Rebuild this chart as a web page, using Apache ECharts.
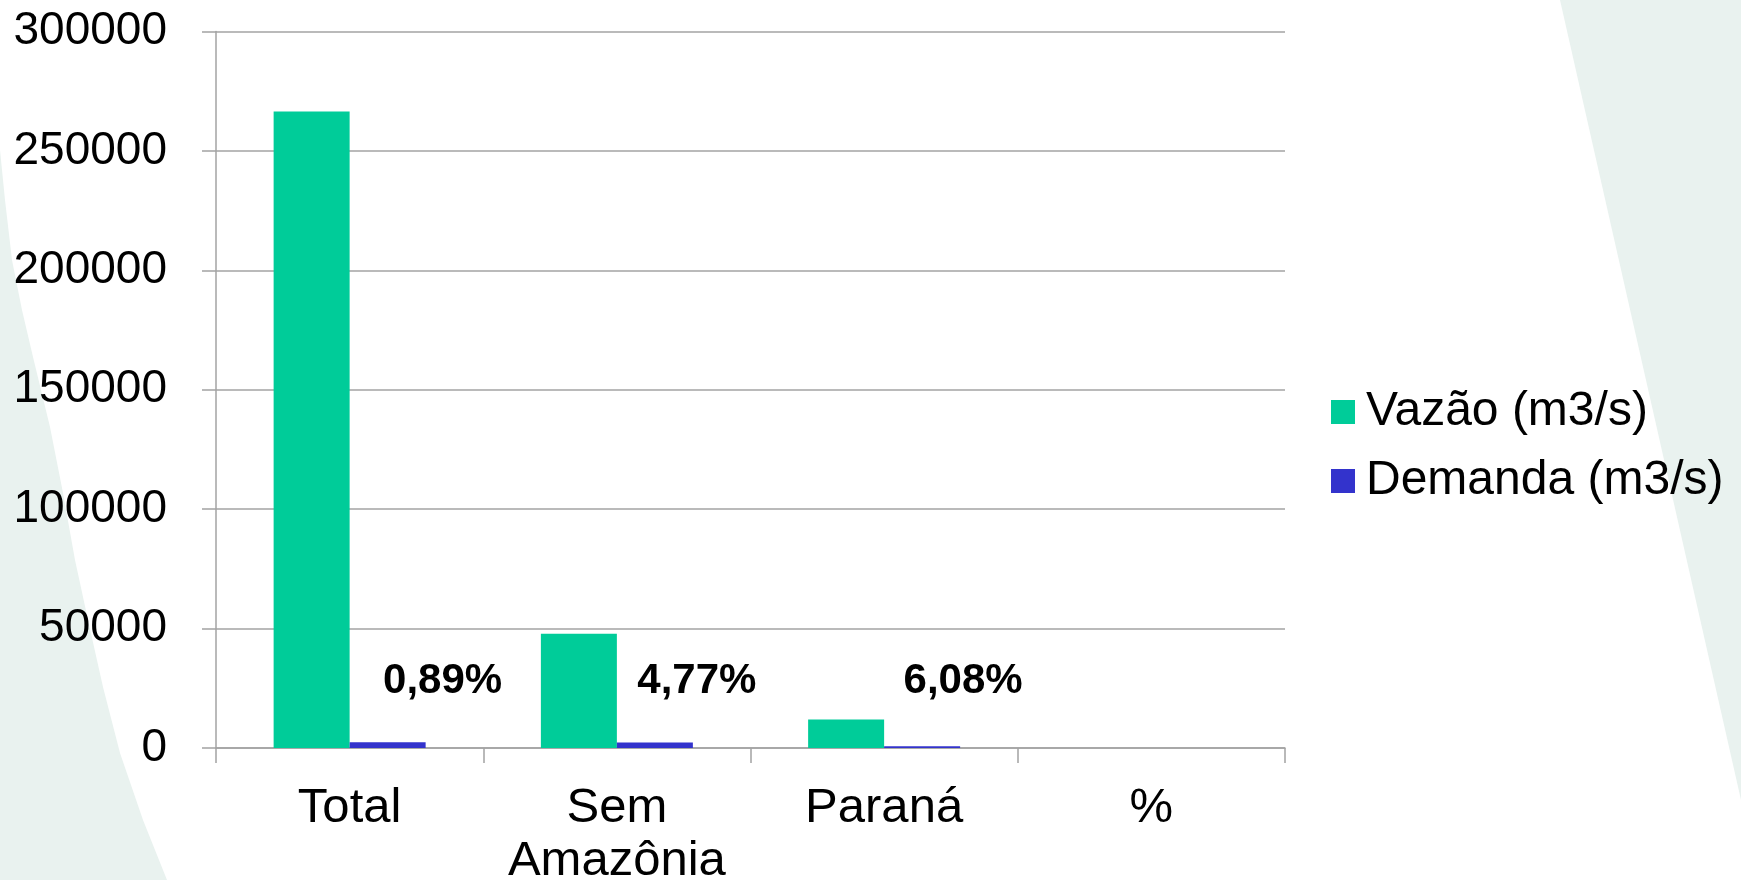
<!DOCTYPE html>
<html>
<head>
<meta charset="utf-8">
<title>Vazão x Demanda</title>
<script src="https://cdn.jsdelivr.net/npm/echarts@6/dist/echarts.min.js"></script>
<style>
  html, body { margin: 0; padding: 0; background: #fff; }
  #chart { width: 1741px; height: 880px; }
</style>
</head>
<body>
<div id="chart"></div>
<script>
// dados
const categories = ['Total', 'Sem\nAmazônia', 'Paraná', '%'];
const vazao = [266500, 47800, 11900, null];
const demanda = [2370, 2280, 720, null];
const pctLabels = ['0,89%', '4,77%', '6,08%', ''];
const seriesNames = ['Vazão (m3/s)', 'Demanda (m3/s)'];

// deslocamento horizontal dos rótulos de %
const labelShift = [55, 42, 41, 0];

const font = 'Liberation Sans, Arial, sans-serif';
const gridColor = '#a3a3a3';

const chart = echarts.init(document.getElementById('chart'));

const demandaData = demanda.map((v, i) => ({
  value: v,
  label: { offset: [labelShift[i], -41] }
}));

const option = {
  backgroundColor: '#ffffff',
  animation: false,
  textStyle: { fontFamily: font },
  // faixas claras do fundo do slide
  graphic: [
    {
      type: 'polygon',
      z: -10,
      silent: true,
      shape: {
        points: [[0, 150], [5, 200], [12, 260], [22, 310], [33, 357], [50, 427], [63, 493],
          [75, 560], [88, 620], [103, 687], [120, 753], [143, 820], [167, 880], [0, 880]]
      },
      style: { fill: '#e9f2ef' }
    },
    {
      type: 'polygon',
      z: -10,
      silent: true,
      shape: {
        points: [[1560, 0], [1741, 0], [1741, 800]]
      },
      style: { fill: '#e9f2ef' }
    }
  ],
  grid: {
    left: 216,
    right: 456,
    top: 31.5,
    bottom: 132,
    containLabel: false,
    outerBoundsMode: 'none'
  },
  legend: {
    orient: 'vertical',
    left: 1331,
    top: 388,
    padding: 0,
    itemGap: 21,
    itemWidth: 24,
    itemHeight: 24,
    icon: 'rect',
    data: seriesNames,
    textStyle: {
      fontFamily: font,
      fontSize: 48,
      color: '#000',
      padding: [0, 0, 0, 6]
    }
  },
  xAxis: {
    type: 'category',
    data: categories,
    boundaryGap: true,
    axisLine: { lineStyle: { color: gridColor, width: 1.5 } },
    axisTick: { show: true, length: 15, interval: 0, lineStyle: { color: gridColor, width: 1.5 } },
    axisLabel: {
      interval: 0,
      margin: 34,
      fontFamily: font,
      fontSize: 49,
      lineHeight: 53,
      color: '#000'
    },
    splitLine: { show: false }
  },
  yAxis: {
    type: 'value',
    min: 0,
    max: 300000,
    interval: 50000,
    axisLine: { show: true, lineStyle: { color: gridColor, width: 1.5 } },
    axisTick: { show: true, length: 14, lineStyle: { color: gridColor, width: 1.5 } },
    axisLabel: {
      margin: 49,
      fontFamily: font,
      fontSize: 46,
      color: '#000',
      formatter: v => String(v)
    },
    splitLine: { lineStyle: { color: gridColor, width: 1.5 } }
  },
  series: [
    {
      name: seriesNames[0],
      type: 'bar',
      barWidth: 76,
      barGap: '0%',
      itemStyle: { color: '#00cc99' },
      data: vazao
    },
    {
      name: seriesNames[1],
      type: 'bar',
      barWidth: 76,
      barGap: '0%',
      itemStyle: { color: '#3333cc' },
      label: {
        show: true,
        position: 'insideBottom',
        fontFamily: font,
        fontSize: 42,
        fontWeight: 'bold',
        color: '#000',
        formatter: p => pctLabels[p.dataIndex]
      },
      data: demandaData
    }
  ]
};

chart.setOption(option);
</script>
</body>
</html>
